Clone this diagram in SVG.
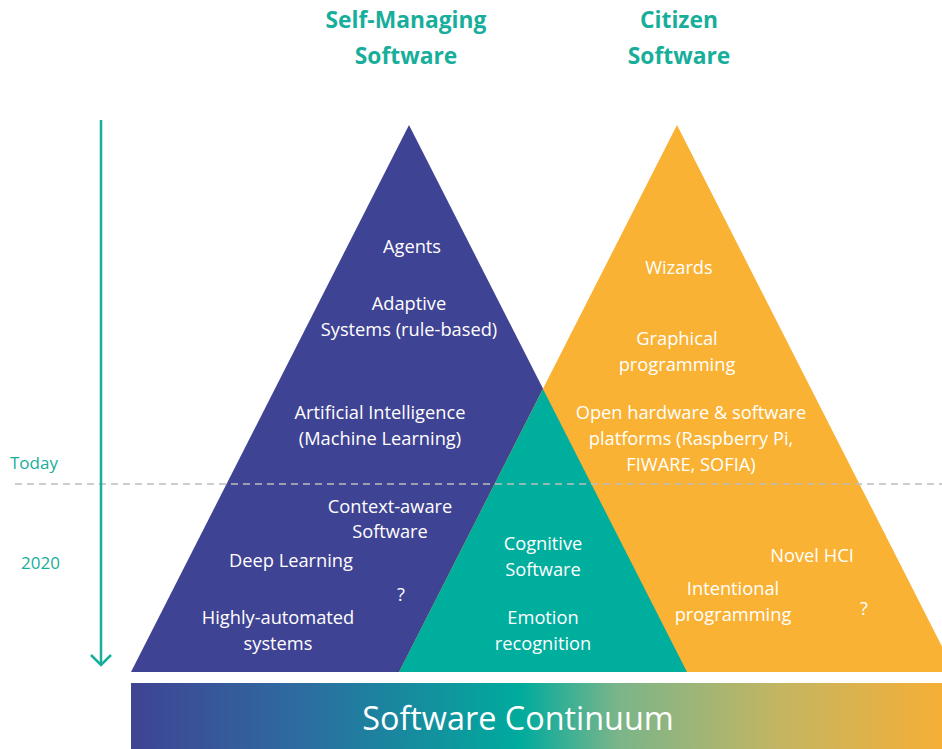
<svg xmlns="http://www.w3.org/2000/svg" width="942" height="749" viewBox="0 0 942 749">
<style>
.t{font-family:"Open Sans","Liberation Sans",sans-serif;font-size:18.25px;fill:#fff;text-anchor:middle}
.h{font-family:"Open Sans","Liberation Sans",sans-serif;font-size:22.8px;font-weight:bold;fill:#17ae9b;text-anchor:middle}
.l{font-family:"Open Sans","Liberation Sans",sans-serif;font-size:17px;fill:#17ae9b}
</style>
<defs>
<linearGradient id="g" x1="131" y1="0" x2="942" y2="0" gradientUnits="userSpaceOnUse">
<stop offset="0" stop-color="#3f4393"/>
<stop offset="0.2" stop-color="#2e6aa0"/>
<stop offset="0.48" stop-color="#00ab9d"/>
<stop offset="0.6" stop-color="#7ab58a"/>
<stop offset="0.8" stop-color="#c4b562"/>
<stop offset="1" stop-color="#f5af36"/>
</linearGradient>
</defs>
<rect width="942" height="749" fill="#fff"/>
<g id="titles">
<text class="h" x="406" y="28">Self-Managing</text>
<text class="h" x="406" y="64">Software</text>
<text class="h" x="679" y="28">Citizen</text>
<text class="h" x="679" y="64">Software</text>
</g>
<g id="self-managing">
<polygon points="409,125 131,672 687,672" fill="#3f4393"/>
</g>
<g id="citizen">
<polygon points="677,125 399,672 955,672" fill="#f9b233"/>
</g>
<g id="cognitive">
<polygon points="543,389 399,672 687,672" fill="#00ae9e"/>
</g>
<g id="connectors">
<line x1="15" y1="484" x2="942" y2="484" stroke="#bdbdbd" stroke-width="1.5" stroke-dasharray="7,5"/>
<line x1="101" y1="120" x2="101" y2="665" stroke="#17ae9b" stroke-width="2.5"/>
<polyline points="91,655 101,665 111,655" fill="none" stroke="#17ae9b" stroke-width="2.5"/>
</g>
<g id="timeline-labels">
<text class="l" x="10" y="469">Today</text>
<text class="l" x="21" y="569">2020</text>
</g>
<g id="sm-labels">
<text class="t" x="412" y="253">Agents</text>
<text class="t" x="409" y="310">Adaptive</text>
<text class="t" x="409" y="336">Systems (rule-based)</text>
<text class="t" x="380" y="419">Artificial Intelligence</text>
<text class="t" x="380" y="445">(Machine Learning)</text>
<text class="t" x="390" y="513">Context-aware</text>
<text class="t" x="390" y="538">Software</text>
<text class="t" x="291" y="567">Deep Learning</text>
<text class="t" x="401" y="601">?</text>
<text class="t" x="278" y="624">Highly-automated</text>
<text class="t" x="278" y="650">systems</text>
</g>
<g id="cog-labels">
<text class="t" x="543" y="550">Cognitive</text>
<text class="t" x="543" y="576">Software</text>
<text class="t" x="543" y="624">Emotion</text>
<text class="t" x="543" y="650">recognition</text>
</g>
<g id="cz-labels">
<text class="t" x="679" y="274">Wizards</text>
<text class="t" x="677" y="345">Graphical</text>
<text class="t" x="677" y="371">programming</text>
<text class="t" x="691" y="419">Open hardware &amp; software</text>
<text class="t" x="691" y="445">platforms (Raspberry Pi,</text>
<text class="t" x="691" y="471">FIWARE, SOFIA)</text>
<text class="t" x="812" y="562">Novel HCI</text>
<text class="t" x="733" y="595">Intentional</text>
<text class="t" x="733" y="621">programming</text>
<text class="t" x="864" y="615">?</text>
</g>
<g id="continuum">
<rect x="131" y="683" width="811" height="66" fill="url(#g)"/>
<text x="518" y="730" font-family="'Open Sans','Liberation Sans',sans-serif" font-size="32.4" fill="#fff" text-anchor="middle">Software Continuum</text>
</g>
</svg>
